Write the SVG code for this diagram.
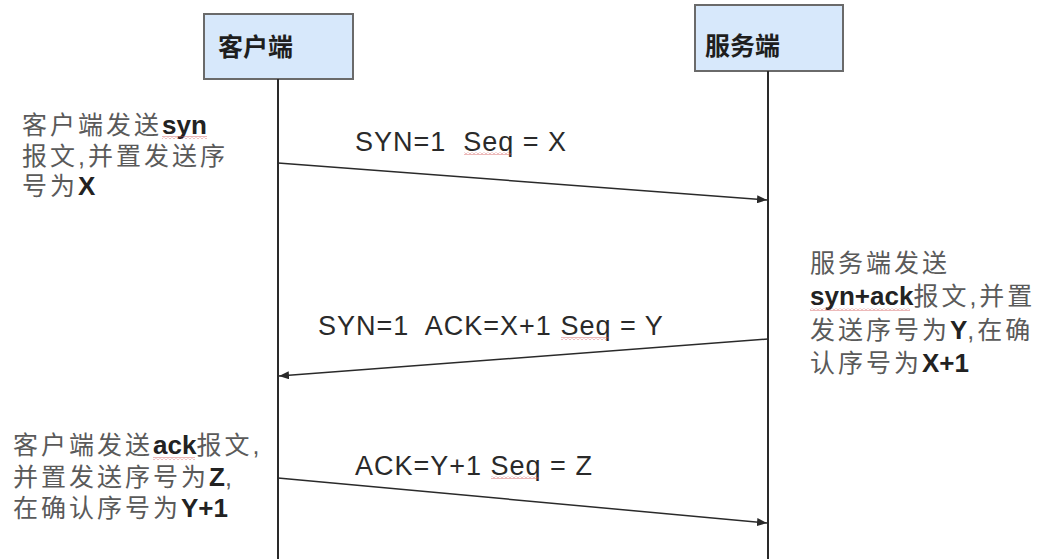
<svg xmlns="http://www.w3.org/2000/svg" width="1050" height="559" viewBox="0 0 1050 559">
<style>
.box{fill:#d7e8fb;stroke:#6a6a6a;stroke-width:2}
.title{font-family:"Liberation Sans","Noto Sans CJK SC",sans-serif;font-size:25px;font-weight:bold;fill:#1e1e1e}
.life{stroke:#2a2a2a;stroke-width:2;fill:none}
.msg{stroke:#2a2a2a;stroke-width:1.5;fill:none;marker-end:url(#ah)}
.lbl{font-family:"Liberation Sans",sans-serif;font-size:27px;letter-spacing:1px;fill:#2a2a2a;white-space:pre}
.note{font-family:"Liberation Sans","Noto Sans CJK SC",sans-serif;font-size:25px;fill:#5a5a5a;letter-spacing:3px}
.b{font-family:"Liberation Sans",sans-serif;font-weight:bold;font-size:26px;fill:#222;letter-spacing:0}
.sq{fill:url(#sqp)}
</style>
<defs>
<marker id="ah" markerUnits="userSpaceOnUse" markerWidth="10" markerHeight="8" refX="10" refY="4" orient="auto">
<path d="M0,0 L10,4 L0,8 z" fill="#2a2a2a"/>
</marker>
<pattern id="sqp" width="4" height="3" patternUnits="userSpaceOnUse">
<path d="M0,2.5 L2,0.5 L4,2.5" fill="none" stroke="#d05050" stroke-width="0.8"/>
</pattern>
</defs>

<g id="client">
<rect class="box" x="204" y="14" width="149" height="65"/>
<text class="title" x="218" y="56">客户端</text>
</g>
<g id="server">
<rect class="box" x="695" y="5" width="148" height="66"/>
<text class="title" x="705" y="55">服务端</text>
</g>

<g id="lifelines">
<line class="life" x1="278" y1="79" x2="278" y2="559"/>
<line class="life" x1="768" y1="71" x2="768" y2="559"/>
</g>

<g id="connectors">
<line class="msg" x1="278" y1="163" x2="767" y2="200"/>
<line class="msg" x1="768" y1="339" x2="279" y2="376"/>
<line class="msg" x1="278" y1="478" x2="767" y2="523"/>
</g>

<g id="labels">
<text class="lbl" x="355" y="151" xml:space="preserve">SYN=1  Seq = X</text>
<rect class="sq" x="464" y="152" width="48" height="3"/>
<text class="lbl" x="318" y="335" xml:space="preserve">SYN=1  ACK=X+1 Seq = Y</text>
<rect class="sq" x="561" y="337" width="48" height="3"/>
<text class="lbl" x="355" y="475" xml:space="preserve">ACK=Y+1 Seq = Z</text>
<rect class="sq" x="491" y="476" width="48" height="3"/>
</g>

<g id="note-client-syn">
<text class="note" x="22" y="134">客户端发送<tspan class="b">syn</tspan></text>
<rect class="sq" x="162" y="136" width="45" height="3"/>
<text class="note" x="22" y="165">报文,并置发送序</text>
<text class="note" x="22" y="195">号为<tspan class="b">X</tspan></text>
</g>

<g id="note-server">
<text class="note" x="810" y="272">服务端发送</text>
<text class="note" x="810" y="305"><tspan class="b">syn+ack</tspan>报文,并置</text>
<rect class="sq" x="810" y="308" width="100" height="3"/>
<text class="note" x="810" y="339">发送序号为<tspan class="b">Y</tspan>,在确</text>
<text class="note" x="810" y="372">认序号为<tspan class="b">X+1</tspan></text>
</g>

<g id="note-client-ack">
<text class="note" x="13" y="454">客户端发送<tspan class="b">ack</tspan>报文,</text>
<rect class="sq" x="153" y="457" width="42" height="3"/>
<text class="note" x="13" y="486">并置发送序号为<tspan class="b">Z</tspan>,</text>
<text class="note" x="13" y="517">在确认序号为<tspan class="b">Y+1</tspan></text>
</g>
</svg>
